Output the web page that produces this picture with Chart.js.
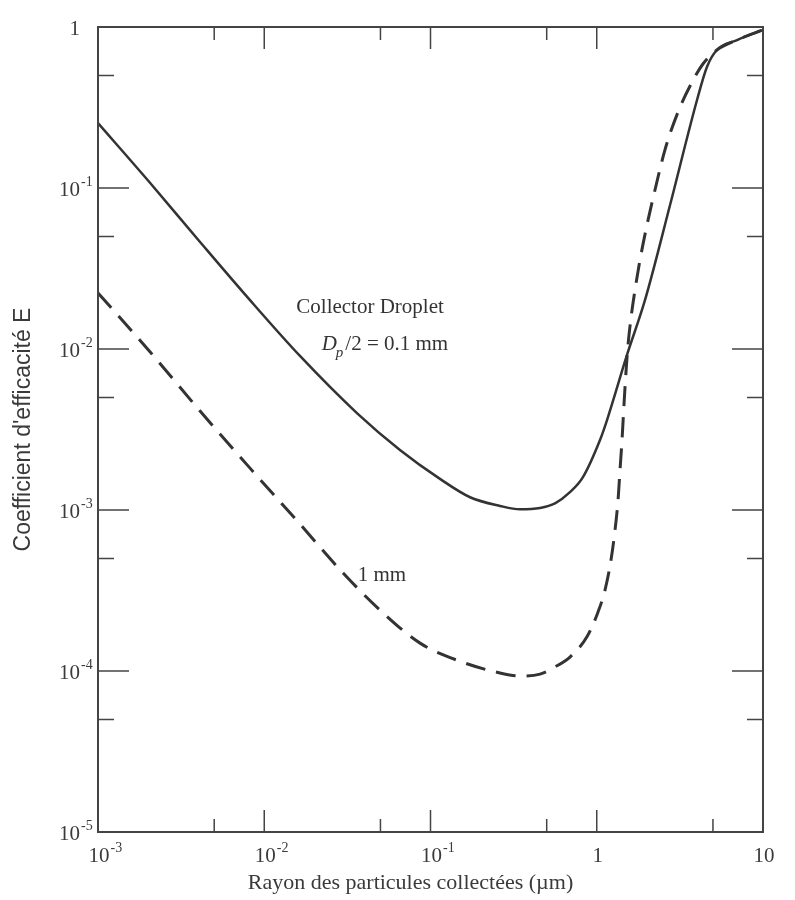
<!DOCTYPE html>
<html>
<head>
<meta charset="utf-8">
<script src="https://cdn.jsdelivr.net/npm/chart.js@4"></script>
<style>
  html, body { margin: 0; padding: 0; background: #fff; }
  #wrap { width: 795px; height: 900px; }
</style>
</head>
<body>
<div id="wrap"><canvas id="efficiency-chart"></canvas></div>
<script>
// collector droplet Dp/2 = 0.1 mm (solid)
let radius01 = [0.001, 0.00206, 0.00411, 0.00821, 0.0164, 0.0361, 0.0655, 0.114, 0.173, 0.262, 0.345, 0.456, 0.561, 0.690, 0.826, 1.046, 1.153, 1.52, 1.95, 2.76, 4.01, 4.60, 5.28, 6.98, 10];
let eff01    = [0.253, 0.1074, 0.0462, 0.0201, 0.00905, 0.0040, 0.00236, 0.00156, 0.00120, 0.00106, 0.00101, 0.00103, 0.00110, 0.00129, 0.0016, 0.00272, 0.00362, 0.00918, 0.0201, 0.0784, 0.352, 0.565, 0.72, 0.83, 0.96];
// collector droplet 1 mm (dashed)
let radius1 = [0.001, 0.00206, 0.00411, 0.00821, 0.0164, 0.0298, 0.0497, 0.0865, 0.150, 0.262, 0.345, 0.456, 0.561, 0.690, 0.873, 1.017, 1.121, 1.218, 1.288, 1.343, 1.380, 1.419, 1.458, 1.499, 1.542, 1.607, 1.698, 1.82, 2.005, 2.24, 2.57, 3.08, 3.64, 4.35, 5.28, 6.98, 10];
let eff1    = [0.0223, 0.00958, 0.00412, 0.00182, 0.000818, 0.000406, 0.000239, 0.000149, 0.000115, 0.0000972, 0.0000931, 0.0000957, 0.000106, 0.000122, 0.000163, 0.000232, 0.000318, 0.000489, 0.000751, 0.001153, 0.00177, 0.00272, 0.00449, 0.00719, 0.01059, 0.0156, 0.02324, 0.0357, 0.0589, 0.0972, 0.172, 0.296, 0.430, 0.589, 0.72, 0.83, 0.96];

let xTicks = [0.001, 0.01, 0.1, 1, 10];
let xTickLabels = ['10^-3', '10^-2', '10^-1', '1', '10'];
let xMinor = [0.005, 0.05, 0.5, 5];
let yTicks = [1e-5, 1e-4, 1e-3, 1e-2, 1e-1, 1];
let yTickLabels = ['10^-5', '10^-4', '10^-3', '10^-2', '10^-1', '1'];
let yMinor = [5e-5, 5e-4, 5e-3, 5e-2, 0.5];

const serif = "'Liberation Serif', 'Times New Roman', serif";
const ink = '#333';

function toPoints(xs, ys) {
    let pts = [];
    for (let i = 0; i < xs.length; i++) pts.push({x: xs[i], y: ys[i]});
    return pts;
}

// draws "10" with a raised exponent; anchor 'center' centres the base on px, 'right' ends the base at px
function drawPower(ctx, label, px, py, anchor) {
    let parts = label.split('^');
    ctx.font = '21px ' + serif;
    let wb = ctx.measureText(parts[0]).width;
    let bx = anchor === 'center' ? px - wb / 2 : px - wb;
    ctx.textAlign = 'left';
    ctx.fillText(parts[0], bx, py);
    if (parts[1]) {
        ctx.font = '14px ' + serif;
        ctx.fillText(parts[1], bx + wb + 1, py - 8);
    }
}

// frame, inward ticks, tick labels and the curve labels
const framePlugin = {
    id: 'frame',
    afterDraw(chart) {
        const {ctx, chartArea: a, scales: {x, y}} = chart;
        ctx.save();
        ctx.strokeStyle = '#444';
        ctx.lineWidth = 2;
        ctx.strokeRect(a.left, a.top, a.right - a.left, a.bottom - a.top);
        ctx.lineWidth = 1.5;
        ctx.beginPath();
        yTicks.concat(yMinor).forEach(v => {
            let py = y.getPixelForValue(v);
            let len = yMinor.includes(v) ? 16 : 31;
            ctx.moveTo(a.left, py); ctx.lineTo(a.left + len, py);
            ctx.moveTo(a.right, py); ctx.lineTo(a.right - len, py);
        });
        xTicks.concat(xMinor).forEach(v => {
            let px = x.getPixelForValue(v);
            let len = xMinor.includes(v) ? 13 : 22;
            ctx.moveTo(px, a.bottom); ctx.lineTo(px, a.bottom - len);
            ctx.moveTo(px, a.top); ctx.lineTo(px, a.top + len);
        });
        ctx.stroke();

        ctx.fillStyle = '#3a3a3a';
        ctx.textBaseline = 'middle';
        yTicks.forEach((v, i) => drawPower(ctx, yTickLabels[i], a.left - 18, y.getPixelForValue(v) + 2, 'right'));
        xTicks.forEach((v, i) => drawPower(ctx, xTickLabels[i], x.getPixelForValue(v) + 1, a.bottom + 24, 'center'));

        // x axis title
        ctx.font = '22px ' + serif;
        ctx.textAlign = 'center';
        ctx.fillText('Rayon des particules collectées (µm)', (a.left + a.right) / 2 - 20, a.bottom + 51);

        // curve labels
        ctx.fillStyle = ink;
        ctx.font = '21px ' + serif;
        ctx.fillText('Collector Droplet', x.getPixelForValue(0.0433), y.getPixelForValue(0.0182));
        ctx.fillText('1 mm', x.getPixelForValue(0.051), y.getPixelForValue(0.000394));

        // D_p/2 = 0.1 mm
        ctx.textAlign = 'left';
        let cx = x.getPixelForValue(0.0532), cy = y.getPixelForValue(0.0106);
        let italic = 'italic 21px ' + serif, sub = 'italic 15px ' + serif, reg = '21px ' + serif;
        let rest = '/2 = 0.1 mm';
        ctx.font = italic; let wD = ctx.measureText('D').width;
        ctx.font = sub; let wp = ctx.measureText('p').width;
        ctx.font = reg; let wr = ctx.measureText(rest).width;
        let sx = cx - (wD + wp + 1 + wr) / 2;
        ctx.font = italic; ctx.fillText('D', sx, cy);
        ctx.font = sub; ctx.fillText('p', sx + wD - 1, cy + 8);
        ctx.font = reg; ctx.fillText(rest, sx + wD + wp + 1, cy);
        ctx.restore();
    }
};

const efficiencyConfig = {
    type: 'line',
    data: {
        datasets: [
            {
                label: 'Dp/2 = 0.1 mm',
                data: toPoints(radius01, eff01),
                borderColor: ink,
                borderWidth: 2.5,
                pointRadius: 0,
                cubicInterpolationMode: 'monotone',
            },
            {
                label: '1 mm',
                data: toPoints(radius1, eff1),
                borderColor: ink,
                borderWidth: 3,
                borderDash: [20, 11],
                pointRadius: 0,
                cubicInterpolationMode: 'monotone',
            },
        ]
    },
    options: {
        responsive: true,
        maintainAspectRatio: false,
        animation: false,
        layout: { padding: { top: 27, right: 32, left: 0, bottom: 0 } },
        plugins: {
            legend: { display: false },
            tooltip: { enabled: false },
        },
        scales: {
            x: {
                type: 'logarithmic',
                min: 0.001,
                max: 10,
                grid: { display: false, drawTicks: false },
                border: { display: false },
                afterBuildTicks: scale => { scale.ticks = xTicks.map(v => ({value: v})); },
                afterFit: scale => { scale.height = 68; },
                ticks: { display: false },
            },
            y: {
                type: 'logarithmic',
                min: 1e-5,
                max: 1,
                grid: { display: false, drawTicks: false },
                border: { display: false },
                afterBuildTicks: scale => { scale.ticks = yTicks.map(v => ({value: v})); },
                afterFit: scale => { scale.width = 98; },
                ticks: { display: false },
                title: {
                    display: true,
                    text: "Coefficient d'efficacité E",
                    color: '#3a3a3a',
                    font: { family: "'Liberation Sans', Arial, sans-serif", size: 23 },
                    padding: { top: 10, bottom: 0 },
                },
            },
        },
    },
    plugins: [framePlugin],
};

const efficiencyChart = new Chart(
    document.getElementById('efficiency-chart'),
    efficiencyConfig
);
</script>
</body>
</html>
